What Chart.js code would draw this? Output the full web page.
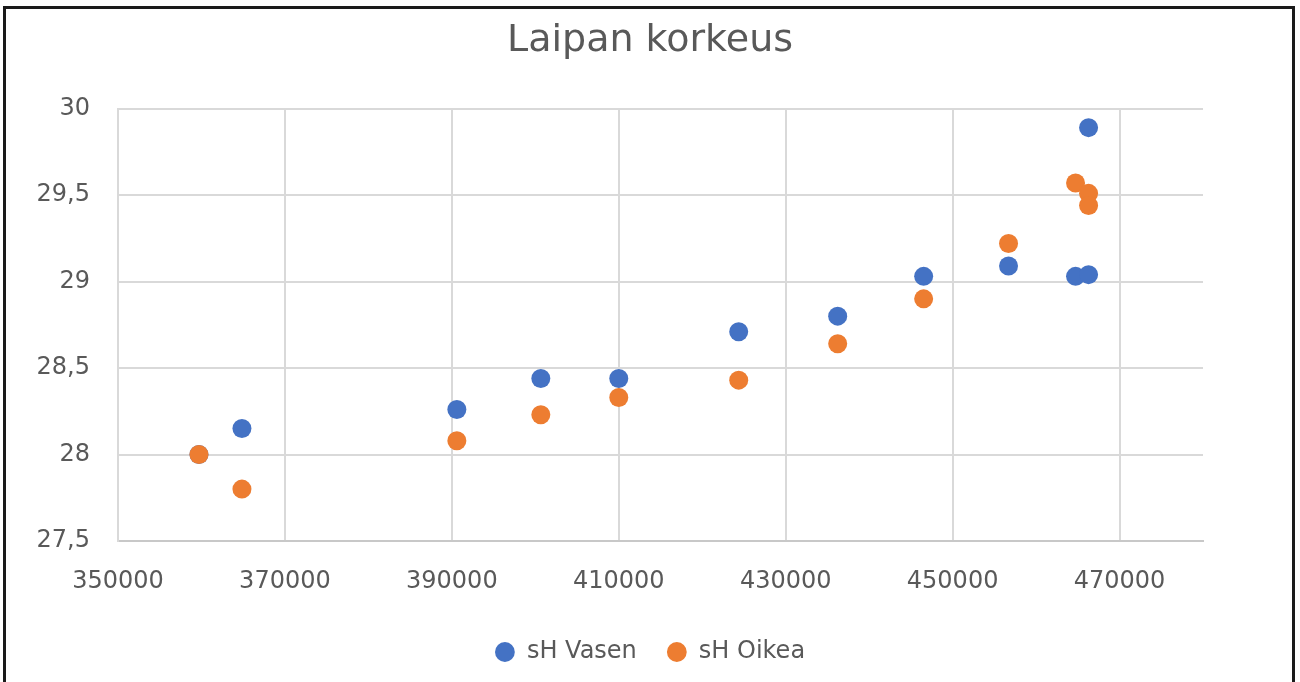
<!DOCTYPE html>
<html>
<head>
<meta charset="utf-8">
<script src="https://cdn.jsdelivr.net/npm/chart.js@4"></script>
<style>
  html, body { margin: 0; padding: 0; background: #ffffff; }
  body { width: 1300px; height: 682px; position: relative; overflow: hidden; }
  #chart { position: absolute; left: 0; top: 0; }
  .frame {
    position: absolute; left: 3px; top: 6px; width: 1286px; height: 690px;
    border: 3px solid #1a1a1a; pointer-events: none;
  }
</style>
</head>
<body>
<canvas id="chart" width="1300" height="682"></canvas>
<div class="frame"></div>
<script>
const chartTitle = "Laipan korkeus";
const seriesNames = ["sH Vasen", "sH Oikea"];

const vasenX = [359700, 364850, 390600, 400660, 410000, 424370, 436230, 446530, 456700, 464730, 466290, 466290];
const vasenY = [28.0, 28.15, 28.26, 28.44, 28.44, 28.71, 28.80, 29.03, 29.09, 29.03, 29.04, 29.89];

const oikeaX = [359700, 364850, 390600, 400660, 410000, 424370, 436230, 446530, 456700, 464730, 466290, 466290];
const oikeaY = [28.0, 27.80, 28.08, 28.23, 28.33, 28.43, 28.64, 28.90, 29.22, 29.57, 29.51, 29.44];

const xTickValues = [350000, 370000, 390000, 410000, 430000, 450000, 470000];
const yTickValues = [27.5, 28, 28.5, 29, 29.5, 30];

const textColor = "#595959";
const gridColor = "#d9d9d9";
const fontFamily = "'DejaVu Sans', sans-serif";

function toPoints(xs, ys) {
  return xs.map((x, i) => ({ x, y: ys[i] }));
}

const canvas = document.getElementById("chart");

new Chart(canvas, {
  type: "scatter",
  data: {
    datasets: [
      {
        label: seriesNames[0],
        data: toPoints(vasenX, vasenY),
        backgroundColor: "#4472c4",
        borderWidth: 0,
        pointRadius: 9.5,
        pointHoverRadius: 9.5,
        order: 1,
      },
      {
        label: seriesNames[1],
        data: toPoints(oikeaX, oikeaY),
        backgroundColor: "#ed7d31",
        borderWidth: 0,
        pointRadius: 9.5,
        pointHoverRadius: 9.5,
        order: 0,
      },
    ],
  },
  options: {
    responsive: false,
    animation: false,
    layout: { padding: { left: 0, right: 0, top: 0, bottom: 8 } },
    plugins: {
      title: {
        display: true,
        text: chartTitle,
        color: textColor,
        font: { family: fontFamily, size: 38, weight: "normal" },
        padding: { top: 18, bottom: 45 },
      },
      legend: {
        display: true,
        position: "bottom",
        labels: {
          color: textColor,
          font: { family: fontFamily, size: 24 },
          usePointStyle: true,
          pointStyle: "circle",
          boxWidth: 20,
          boxHeight: 14,
          padding: 30,
          sort: (a, b) => a.datasetIndex - b.datasetIndex,
        },
      },
      tooltip: { enabled: false },
    },
    scales: {
      x: {
        type: "linear",
        min: 350000,
        max: 480000,
        afterBuildTicks(scale) {
          scale.ticks = xTickValues.map((value) => ({ value }));
        },
        afterFit(scale) {
          scale.height = 69;
        },
        grid: { color: gridColor, lineWidth: 2, drawTicks: false },
        border: { color: "#c8c8c8", width: 2 },
        ticks: {
          color: textColor,
          font: { family: fontFamily, size: 24 },
          padding: 26,
          maxRotation: 0,
          callback(value) {
            return String(value);
          },
        },
      },
      y: {
        type: "linear",
        min: 27.5,
        max: 30,
        afterBuildTicks(scale) {
          scale.ticks = yTickValues.map((value) => ({ value }));
        },
        afterFit(scale) {
          scale.width = 118;
        },
        grid: { color: gridColor, lineWidth: 2, drawTicks: false },
        border: { color: gridColor, width: 2 },
        ticks: {
          color: textColor,
          font: { family: fontFamily, size: 24 },
          padding: 28,
          callback(value) {
            return String(value).replace(".", ",");
          },
        },
      },
      // empty right-hand spacer so the title and legend stay centred on the canvas
      spacer: {
        type: "linear",
        position: "right",
        afterFit(scale) {
          scale.width = 97;
        },
        grid: { display: false, drawTicks: false },
        border: { display: false },
        ticks: { display: false },
      },
    },
  },
});
</script>
</body>
</html>
